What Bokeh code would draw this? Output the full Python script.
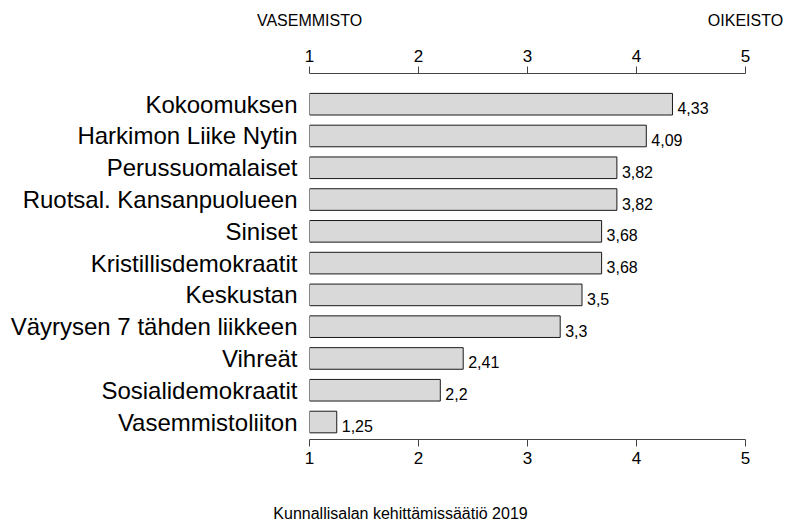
from bokeh.plotting import figure
from bokeh.models import LinearAxis, FixedTicker, Range1d, ColumnDataSource
from bokeh.core.properties import value
from bokeh.embed import file_html
from bokeh.resources import INLINE

parties = ["Kokoomuksen", "Harkimon Liike Nytin", "Perussuomalaiset",
           "Ruotsal. Kansanpuolueen", "Siniset", "Kristillisdemokraatit",
           "Keskustan", "Väyrysen 7 tähden liikkeen", "Vihreät",
           "Sosialidemokraatit", "Vasemmistoliiton"]
scores = [4.33, 4.09, 3.82, 3.82, 3.68, 3.68, 3.5, 3.3, 2.41, 2.2, 1.25]
scale_ticks = [1, 2, 3, 4, 5]
end_titles = {1: "VASEMMISTO", 5: "OIKEISTO"}
source_note = "Kunnallisalan kehittämissäätiö 2019"
source_note_x = 1.835

n = len(parties)
ypos = [n - 1 - i for i in range(n)]
labels = [f"{v:g}".replace(".", ",") for v in scores]

src = ColumnDataSource(dict(party=parties, score=scores, y=ypos, base=[1] * n, lab=labels))

FONT = "Liberation Sans"
W, H = 793, 524
p = figure(width=W, height=H, output_backend="svg", toolbar_location=None,
           x_range=Range1d(1, 5), y_range=Range1d(-0.55, n - 1 + 0.966),
           x_axis_location=None, y_axis_location=None,
           min_border_left=309, min_border_right=W - 745, min_border_top=73,
           min_border_bottom=H - 440)
p.outline_line_color = None
p.grid.visible = False
p.background_fill_color = "white"

p.hbar(y="y", left="base", right="score", height=0.68, source=src,
       fill_color="#d9d9d9", line_color="#1a1a1a", line_width=1)
p.text(x="score", y="y", text="lab", source=src, x_offset=5, y_offset=4,
       text_baseline="middle", text_align="left", text_font=value(FONT),
       text_font_size="16px", text_color="black")

for loc in ("above", "below"):
    ax = LinearAxis(ticker=FixedTicker(ticks=scale_ticks))
    ax.major_tick_in = 0
    ax.major_tick_out = 7
    ax.minor_tick_line_color = None
    ax.axis_line_color = "#444444"
    ax.major_tick_line_color = "#444444"
    ax.major_label_text_font = FONT
    ax.major_label_text_font_size = "17px"
    ax.major_label_text_color = "black"
    ax.major_label_standoff = 5
    p.add_layout(ax, loc)

# end-of-scale titles
tax = LinearAxis(ticker=FixedTicker(ticks=list(end_titles.keys())),
                 major_label_overrides=end_titles)
tax.axis_line_color = None
tax.major_tick_line_color = None
tax.minor_tick_line_color = None
tax.major_label_standoff = 12
tax.major_label_text_font = FONT
tax.major_label_text_font_size = "16px"
tax.major_label_text_color = "black"
p.add_layout(tax, "above")

# source note
sax = LinearAxis(ticker=FixedTicker(ticks=[source_note_x]),
                 major_label_overrides={source_note_x: source_note})
sax.axis_line_color = None
sax.major_tick_line_color = None
sax.minor_tick_line_color = None
sax.major_label_standoff = 32
sax.major_label_text_font = FONT
sax.major_label_text_font_size = "16px"
sax.major_label_text_color = "black"
p.add_layout(sax, "below")

yax = LinearAxis(ticker=FixedTicker(ticks=ypos),
                 major_label_overrides={y: name for y, name in zip(ypos, parties)})
yax.axis_line_color = None
yax.major_tick_line_color = None
yax.minor_tick_line_color = None
yax.major_label_standoff = 6
yax.major_label_text_font = FONT
yax.major_label_text_font_size = "24px"
yax.major_label_text_color = "black"
p.add_layout(yax, "left")

open("out.html", "w").write(file_html(p, INLINE))
